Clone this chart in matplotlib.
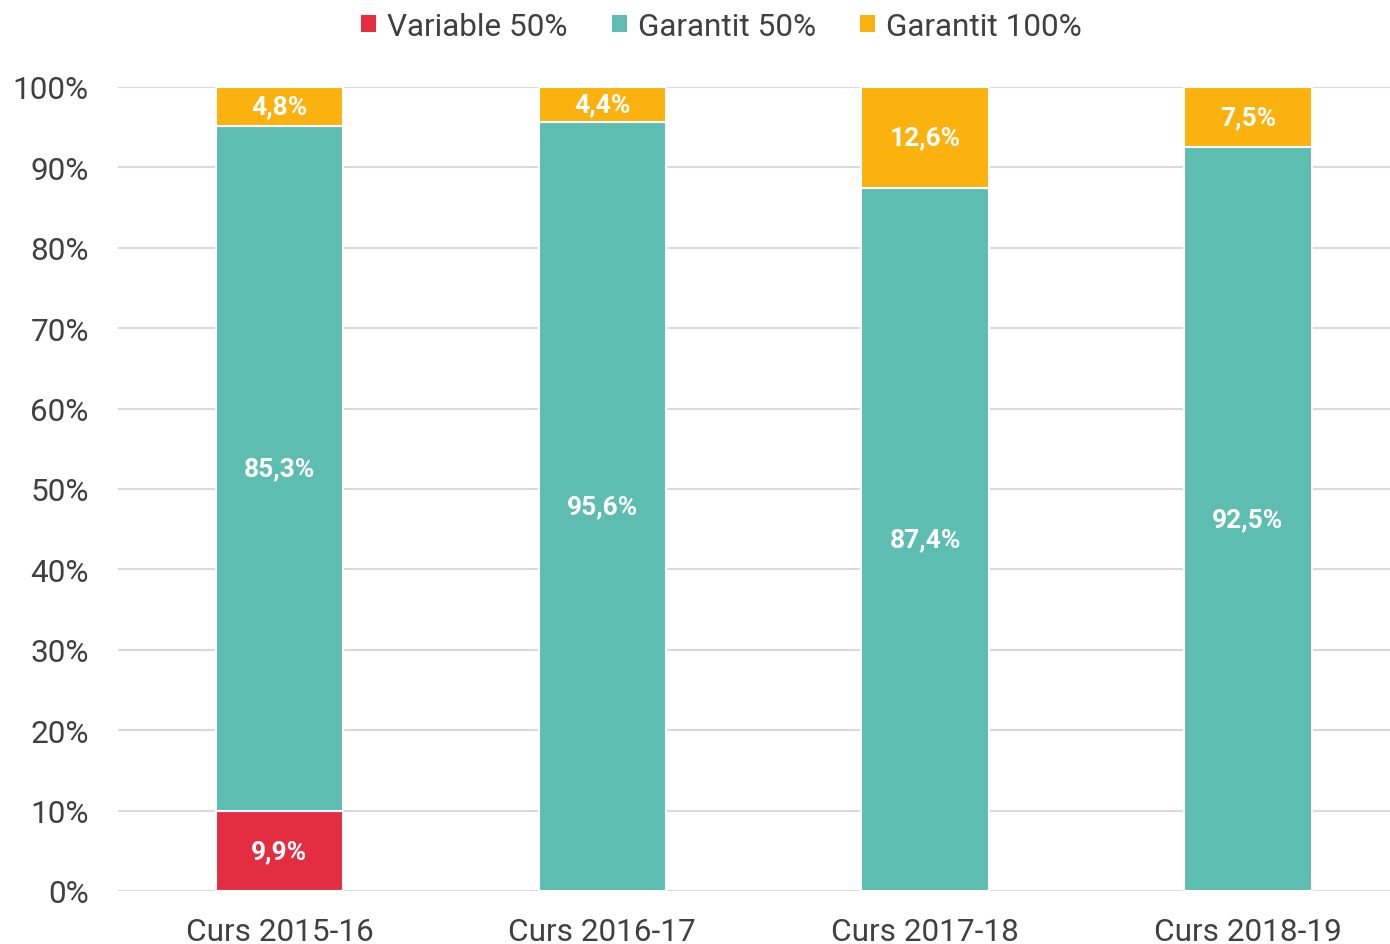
import matplotlib.pyplot as plt
import numpy as np

plt.rcParams['font.family'] = ['Roboto', 'DejaVu Sans']

cursos = ["Curs 2015-16", "Curs 2016-17", "Curs 2017-18", "Curs 2018-19"]
variable_50 = [9.9, 0, 0, 0]
garantit_50 = [85.3, 95.6, 87.4, 92.5]
garantit_100 = [4.8, 4.4, 12.6, 7.5]

series = [
    ("Variable 50%", variable_50, "#e52d42"),
    ("Garantit 50%", garantit_50, "#5dbdb1"),
    ("Garantit 100%", garantit_100, "#fbb20f"),
]

fig = plt.figure(figsize=(13.9, 9.45), dpi=100)
ax = fig.add_axes([0.0849, 0.0561, 0.9151, 0.8508])

x = np.arange(len(cursos))
bottom = np.zeros(len(cursos))
for name, vals, color in series:
    vals = np.array(vals)
    ax.bar(x, vals, 0.395, bottom=bottom, color=color, edgecolor="white",
           linewidth=1.5, label=name, zorder=3)
    for xi, b, v in zip(x, bottom, vals):
        if v > 0:
            ax.text(xi, b + v / 2, f"{v:.1f}%".replace(".", ","), ha="center",
                    va="center", color="white", fontsize=19, fontweight="bold",
                    zorder=4)
    bottom += vals

ax.set_xlim(-0.5, 3.44)
ax.set_ylim(0, 100)
ax.set_yticks(range(0, 101, 10))
ax.set_yticklabels([f"{v}%" for v in range(0, 101, 10)])
ax.set_xticks(x)
ax.set_xticklabels(cursos)
ax.yaxis.grid(True, color="#d9d9d9", linewidth=1.5, zorder=0)
ax.set_axisbelow(True)
for s in ax.spines.values():
    s.set_visible(False)
ax.tick_params(length=0, labelsize=22.7, labelcolor="#404040")
ax.tick_params(axis="x", pad=19)
ax.tick_params(axis="y", pad=21)

leg = fig.legend(*ax.get_legend_handles_labels(), loc="center",
                 bbox_to_anchor=(0.519, 0.971), ncol=3, frameon=False,
                 fontsize=22.7, labelcolor="#404040", handlelength=0.47,
                 handleheight=0.47, handletextpad=0.35, columnspacing=1.4)
for h in leg.legend_handles:
    h.set_linewidth(0)

fig.savefig("out.png", dpi=100)
